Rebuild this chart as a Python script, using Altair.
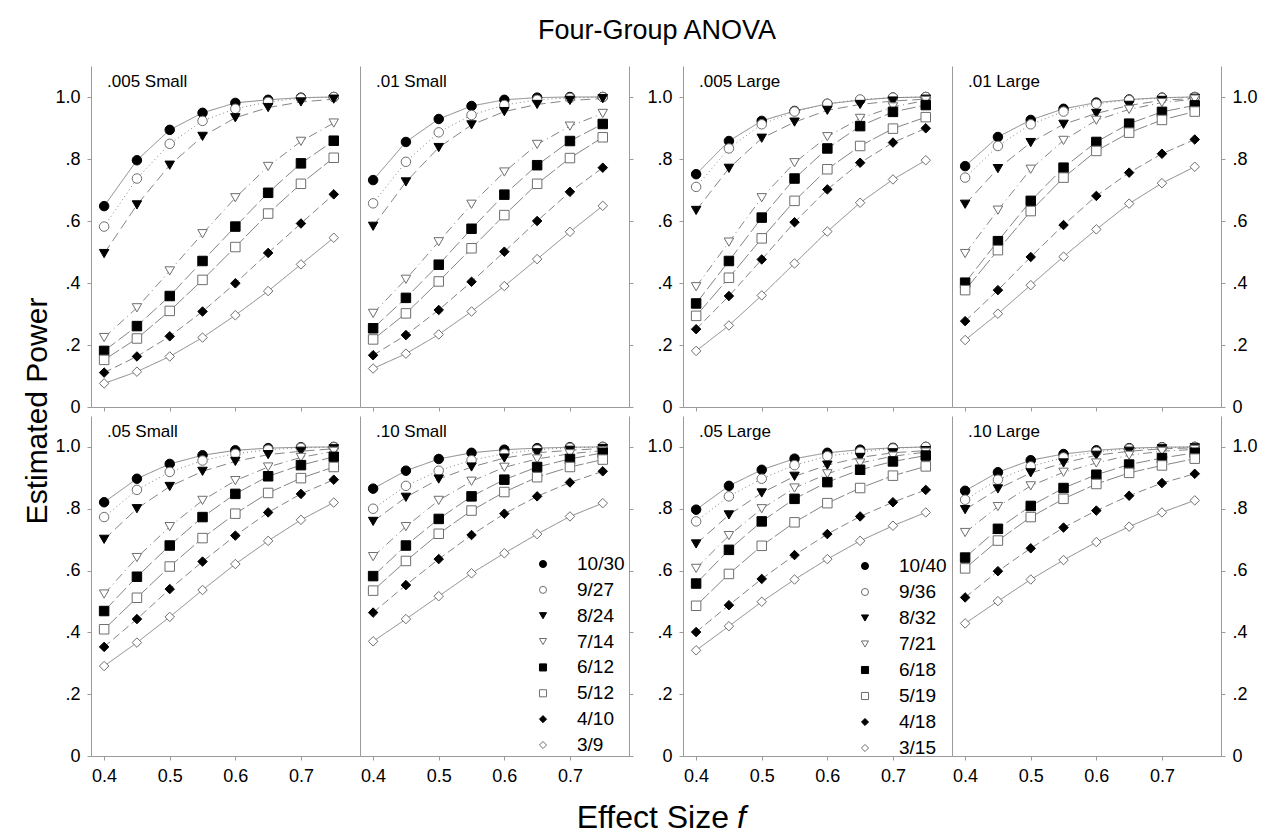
import altair as alt
import pandas as pd

FONT = "Liberation Sans, Arial, sans-serif"

effect_sizes = [0.40, 0.45, 0.50, 0.55, 0.60, 0.65, 0.70, 0.75]
labels_small = ["10/30", "9/27", "8/24", "7/14", "6/12", "5/12", "4/10", "3/9"]
labels_large = ["10/40", "9/36", "8/32", "7/21", "6/18", "5/19", "4/18", "3/15"]

p_005_small = [
    [0.648, 0.796, 0.894, 0.949, 0.981, 0.991, 0.998, 1.000],
    [0.582, 0.737, 0.849, 0.923, 0.962, 0.984, 0.996, 1.000],
    [0.495, 0.652, 0.780, 0.873, 0.933, 0.966, 0.984, 0.993],
    [0.224, 0.320, 0.439, 0.559, 0.675, 0.776, 0.857, 0.916],
    [0.181, 0.261, 0.358, 0.471, 0.582, 0.691, 0.786, 0.859],
    [0.152, 0.221, 0.310, 0.410, 0.516, 0.624, 0.720, 0.804],
    [0.111, 0.163, 0.228, 0.308, 0.399, 0.497, 0.592, 0.686],
    [0.076, 0.114, 0.163, 0.224, 0.296, 0.374, 0.460, 0.546],
]
p_01_small = [
    [0.732, 0.855, 0.929, 0.971, 0.991, 0.998, 1.000, 1.000],
    [0.657, 0.791, 0.886, 0.942, 0.974, 0.991, 0.997, 1.000],
    [0.583, 0.726, 0.837, 0.910, 0.953, 0.976, 0.989, 0.995],
    [0.302, 0.412, 0.533, 0.654, 0.758, 0.847, 0.906, 0.947],
    [0.254, 0.352, 0.459, 0.575, 0.685, 0.780, 0.858, 0.913],
    [0.218, 0.302, 0.405, 0.512, 0.619, 0.720, 0.803, 0.870],
    [0.167, 0.232, 0.313, 0.404, 0.501, 0.600, 0.694, 0.772],
    [0.124, 0.172, 0.234, 0.308, 0.390, 0.477, 0.565, 0.649],
]
p_005_large = [
    [0.751, 0.858, 0.923, 0.955, 0.978, 0.990, 0.998, 1.000],
    [0.710, 0.834, 0.912, 0.953, 0.978, 0.992, 0.998, 1.000],
    [0.634, 0.770, 0.867, 0.919, 0.957, 0.976, 0.987, 0.993],
    [0.388, 0.532, 0.675, 0.788, 0.872, 0.931, 0.968, 0.989],
    [0.334, 0.471, 0.611, 0.737, 0.834, 0.906, 0.952, 0.974],
    [0.294, 0.417, 0.544, 0.665, 0.767, 0.842, 0.898, 0.935],
    [0.251, 0.358, 0.476, 0.596, 0.702, 0.788, 0.853, 0.899],
    [0.181, 0.263, 0.360, 0.463, 0.566, 0.659, 0.734, 0.796],
]
p_01_large = [
    [0.777, 0.871, 0.926, 0.962, 0.982, 0.992, 0.998, 1.000],
    [0.740, 0.842, 0.912, 0.953, 0.978, 0.990, 0.997, 1.000],
    [0.654, 0.769, 0.853, 0.912, 0.947, 0.973, 0.989, 0.996],
    [0.495, 0.635, 0.767, 0.860, 0.925, 0.960, 0.982, 0.993],
    [0.401, 0.535, 0.665, 0.772, 0.855, 0.914, 0.952, 0.973],
    [0.377, 0.506, 0.632, 0.740, 0.826, 0.885, 0.926, 0.953],
    [0.277, 0.377, 0.484, 0.587, 0.681, 0.756, 0.817, 0.863],
    [0.216, 0.301, 0.393, 0.485, 0.573, 0.656, 0.722, 0.775],
]
p_05_small = [
    [0.821, 0.897, 0.945, 0.973, 0.989, 0.996, 0.999, 1.000],
    [0.773, 0.861, 0.919, 0.956, 0.978, 0.991, 0.997, 0.999],
    [0.701, 0.800, 0.872, 0.921, 0.953, 0.975, 0.986, 0.994],
    [0.524, 0.642, 0.742, 0.827, 0.891, 0.935, 0.966, 0.986],
    [0.469, 0.580, 0.681, 0.773, 0.848, 0.905, 0.941, 0.968],
    [0.410, 0.512, 0.613, 0.705, 0.784, 0.851, 0.899, 0.935],
    [0.353, 0.443, 0.540, 0.629, 0.713, 0.788, 0.848, 0.894],
    [0.291, 0.367, 0.450, 0.537, 0.621, 0.696, 0.764, 0.820],
]
p_10_small = [
    [0.865, 0.923, 0.961, 0.981, 0.991, 0.996, 0.999, 1.000],
    [0.800, 0.874, 0.923, 0.957, 0.978, 0.991, 0.997, 1.000],
    [0.759, 0.837, 0.896, 0.935, 0.964, 0.981, 0.989, 0.995],
    [0.645, 0.742, 0.827, 0.889, 0.934, 0.961, 0.978, 0.988],
    [0.582, 0.681, 0.767, 0.840, 0.894, 0.935, 0.961, 0.981],
    [0.535, 0.631, 0.719, 0.794, 0.854, 0.902, 0.935, 0.959],
    [0.464, 0.553, 0.637, 0.715, 0.784, 0.840, 0.885, 0.921],
    [0.371, 0.443, 0.517, 0.591, 0.656, 0.718, 0.775, 0.818],
]
p_05_large = [
    [0.797, 0.874, 0.926, 0.962, 0.981, 0.991, 0.997, 1.000],
    [0.759, 0.840, 0.897, 0.941, 0.970, 0.984, 0.995, 1.000],
    [0.686, 0.780, 0.851, 0.905, 0.941, 0.966, 0.981, 0.988],
    [0.607, 0.713, 0.800, 0.867, 0.913, 0.948, 0.970, 0.983],
    [0.558, 0.667, 0.759, 0.832, 0.886, 0.926, 0.953, 0.972],
    [0.486, 0.589, 0.680, 0.756, 0.818, 0.867, 0.907, 0.937],
    [0.401, 0.488, 0.573, 0.650, 0.718, 0.775, 0.821, 0.861],
    [0.342, 0.420, 0.499, 0.571, 0.637, 0.696, 0.745, 0.788],
]
p_10_large = [
    [0.858, 0.918, 0.957, 0.977, 0.989, 0.996, 0.999, 1.000],
    [0.829, 0.894, 0.937, 0.966, 0.984, 0.994, 0.998, 1.000],
    [0.797, 0.864, 0.916, 0.948, 0.973, 0.986, 0.994, 0.997],
    [0.723, 0.807, 0.874, 0.918, 0.948, 0.973, 0.986, 0.992],
    [0.642, 0.735, 0.809, 0.867, 0.910, 0.943, 0.964, 0.981],
    [0.607, 0.697, 0.773, 0.832, 0.880, 0.916, 0.940, 0.962],
    [0.513, 0.598, 0.672, 0.739, 0.794, 0.842, 0.883, 0.913],
    [0.429, 0.501, 0.571, 0.634, 0.692, 0.742, 0.788, 0.827],
]

y_ticks = [0, 0.2, 0.4, 0.6, 0.8, 1.0]
x_ticks = [0.4, 0.5, 0.6, 0.7]

shapes = ["circle", "circle", "triangle-down", "triangle-down",
          "square", "square", "diamond", "diamond"]
fills = ["black", "white", "black", "white", "black", "white", "black", "white"]
strokes = ["black", "#6e6e6e", "black", "#6e6e6e", "black", "#6e6e6e", "black", "#6e6e6e"]
dashes = [[1, 0], [1, 3], [10, 5], [9, 4, 1, 4], [14, 4], [18, 3], [8, 4], [1, 0]]

AX_COLOR = "#9a9a9a"
Y_LABEL_EXPR = ("datum.value == 0 ? '0' : datum.value == 1 ? '1.0' : "
                "replace(format(datum.value, '.1f'), '0.', '.')")

INDEP = dict(x="independent", y="independent", shape="independent",
             fill="independent", stroke="independent", strokeDash="independent")


def build_df(values, labels):
    rows = []
    for lab, series in zip(labels, values):
        for f, p in zip(effect_sizes, series):
            rows.append({"f": f, "power": p, "series": lab, "dash": lab})
    return pd.DataFrame(rows)


def y_axis(orient, show_labels, ticks=True):
    return alt.Axis(orient=orient, values=y_ticks, labelExpr=Y_LABEL_EXPR,
                    labels=show_labels, ticks=ticks, title=None, grid=False,
                    domainColor=AX_COLOR, tickColor=AX_COLOR, tickSize=4,
                    labelFontSize=18, labelFont=FONT, labelColor="black",
                    labelPadding=(7 if show_labels else 0), minExtent=0,
                    labelAlign=("left" if orient == "right" else "right"))


def make_panel(values, labels, title, height, bottom_labels, left_labels,
               left_ticks=True, right_axis=None, legend_pos=None):
    df = build_df(values, labels)
    xenc = alt.X("f:Q", scale=alt.Scale(domain=[0.38, 0.79], nice=False, zero=False),
                 axis=alt.Axis(values=x_ticks, format=".1f", labels=bottom_labels,
                               title=None, grid=False, domainColor=AX_COLOR,
                               tickColor=AX_COLOR, tickSize=4, labelFontSize=18,
                               labelFont=FONT, labelColor="black",
                               labelPadding=(7 if bottom_labels else 0), minExtent=0))
    yscale = alt.Scale(domain=[0, 1.1], nice=False, zero=True)

    shape_enc = alt.Shape("series:N", scale=alt.Scale(domain=labels, range=shapes), legend=None)
    fill_enc = alt.Fill("series:N", scale=alt.Scale(domain=labels, range=fills), legend=None)
    stroke_enc = alt.Stroke("series:N", scale=alt.Scale(domain=labels, range=strokes), legend=None)

    lines = alt.Chart(df).mark_line(color="#858585", strokeWidth=1).encode(
        x=xenc,
        y=alt.Y("power:Q", scale=yscale, axis=y_axis("left", left_labels, left_ticks)),
        detail="series:N",
        strokeDash=alt.StrokeDash("dash:N", scale=alt.Scale(domain=labels, range=dashes),
                                  legend=None),
    )
    points = alt.Chart(df).mark_point(size=90, strokeWidth=1, opacity=1, fillOpacity=1).encode(
        x=xenc,
        y=alt.Y("power:Q", scale=yscale, axis=None),
        shape=shape_enc, fill=fill_enc, stroke=stroke_enc,
    )
    ttl = alt.Chart(pd.DataFrame({"t": [title]})).mark_text(
        align="left", baseline="middle", fontSize=17, font=FONT, color="black"
    ).encode(x=alt.value(16), y=alt.value(16), text="t:N")

    layers = [lines, points, ttl]
    if right_axis is not None:
        ghost = alt.Chart(df).mark_point(opacity=0).encode(
            y=alt.Y("power:Q", scale=yscale, axis=y_axis("right", right_axis == "labels"))
        )
        layers.append(ghost)
    if legend_pos is not None:
        sx, tx, ry0, ry1 = legend_pos
        leg_df = pd.DataFrame({"series": labels, "row": list(range(len(labels)))})
        leg_y = alt.Y("row:O", scale=alt.Scale(type="point", domain=list(range(len(labels))),
                                               range=[ry0, ry1], padding=0), axis=None)
        leg_pts = alt.Chart(leg_df).mark_point(size=50, strokeWidth=1, opacity=1,
                                               fillOpacity=1).encode(
            x=alt.value(sx), y=leg_y, shape=shape_enc, fill=fill_enc, stroke=stroke_enc)
        leg_txt = alt.Chart(leg_df).mark_text(
            align="left", baseline="middle", fontSize=19, font=FONT, color="black"
        ).encode(x=alt.value(tx), y=leg_y, text="series:N")
        layers.append(alt.layer(leg_pts, leg_txt))
    ch = alt.layer(*layers).properties(width=269, height=height)
    ch = ch.resolve_scale(y="independent")
    return ch


H1, H2 = 341, 340
p1 = make_panel(p_005_small, labels_small, ".005 Small", H1, False, True)
p2 = make_panel(p_01_small, labels_small, ".01 Small", H1, False, False,
                left_ticks=False, right_axis="ticks")
p3 = make_panel(p_005_large, labels_large, ".005 Large", H1, False, True)
p4 = make_panel(p_01_large, labels_large, ".01 Large", H1, False, False,
                left_ticks=False, right_axis="labels")
p5 = make_panel(p_05_small, labels_small, ".05 Small", H2, True, True)
p6 = make_panel(p_10_small, labels_small, ".10 Small", H2, True, False,
                left_ticks=False, right_axis="ticks", legend_pos=(183, 217, 148, 329))
p7 = make_panel(p_05_large, labels_large, ".05 Large", H2, True, True,
                legend_pos=(182, 216, 150, 332))
p8 = make_panel(p_10_large, labels_large, ".10 Large", H2, True, False,
                left_ticks=False, right_axis="labels")


def hpair(a, b, spacing):
    return alt.hconcat(a, b, spacing=spacing).resolve_scale(**INDEP)


row1 = hpair(hpair(p1, p2, 0), hpair(p3, p4, 0), 12)
row2 = hpair(hpair(p5, p6, 0), hpair(p7, p8, 0), 12)

xlab1 = alt.Chart(pd.DataFrame({"t": ["Effect Size"]})).mark_text(
    fontSize=32, font=FONT, color="black", baseline="middle", align="right"
).encode(x=alt.value(638), y=alt.value(33), text="t:N")
xlab2 = alt.Chart(pd.DataFrame({"t": ["f"]})).mark_text(
    fontSize=32, font=FONT, fontStyle="italic", color="black", baseline="middle", align="left"
).encode(x=alt.value(646), y=alt.value(33), text="t:N")
xlab = alt.layer(xlab1, xlab2).properties(width=700, height=46)

ylab = alt.Chart(pd.DataFrame({"t": ["Estimated Power"]})).mark_text(
    angle=270, fontSize=30, font=FONT, color="black", baseline="middle", align="center"
).encode(x=alt.value(15), y=alt.value(345), text="t:N").properties(width=30, height=690)

main = alt.vconcat(row1, row2, xlab, spacing=0).resolve_scale(**INDEP)

chart = alt.hconcat(ylab, main, spacing=1).resolve_scale(**INDEP).properties(
    title=alt.TitleParams("Four-Group ANOVA", fontSize=27, font=FONT, fontWeight="normal",
                          anchor="middle", color="black", offset=21, dx=17),
    padding={"left": 23, "top": 17, "right": 5, "bottom": 5},
).configure(background="white").configure_view(strokeWidth=0, stroke=None)

chart.save("out.html", embed_options={"renderer": "svg", "actions": False})
